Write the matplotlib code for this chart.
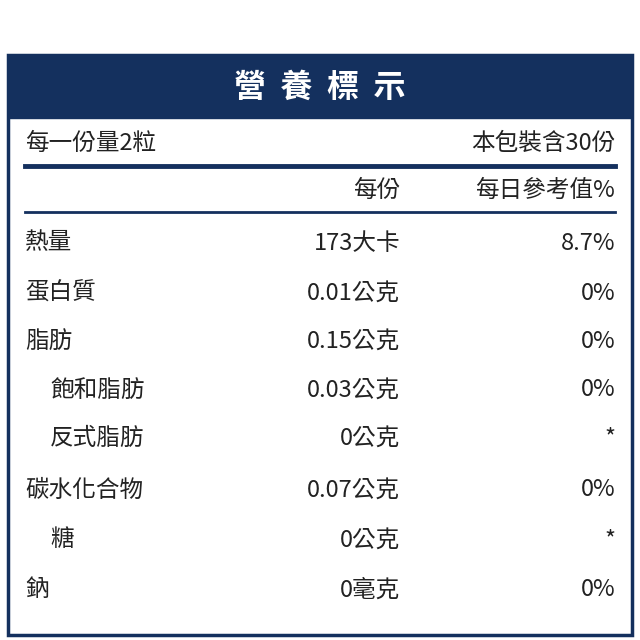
import matplotlib
matplotlib.use("Agg")
import matplotlib.pyplot as plt
from matplotlib.patches import Rectangle

plt.rcParams['font.family'] = ['Noto Sans CJK TC', 'DejaVu Sans']

title = "營  養  標  示"
serving = "每一份量2粒"
servings_per = "本包裝含30份"
col_headers = ["每份", "每日參考值%"]
items = ["熱量", "蛋白質", "脂肪", "飽和脂肪", "反式脂肪", "碳水化合物", "糖", "鈉"]
per_serving = ["173大卡", "0.01公克", "0.15公克", "0.03公克", "0公克", "0.07公克", "0公克", "0毫克"]
daily_pct = ["8.7%", "0%", "0%", "0%", "*", "0%", "*", "0%"]
indent = [False, False, False, True, True, False, True, False]

navy = "#14305e"
txt = "#222222"

fig = plt.figure(figsize=(6.4, 6.4), dpi=100)
ax = fig.add_axes([0, 0, 1, 1])
ax.set_xlim(0, 640)
ax.set_ylim(640, 0)
ax.axis('off')

ax.add_patch(Rectangle((8, 55), 624, 580, fill=False, edgecolor=navy, lw=2.5))
ax.add_patch(Rectangle((8, 55), 624, 63, color=navy))
ax.text(320, 88, title, color='white', fontsize=23, fontweight='bold', ha='center', va='center')

fs = 17
ax.text(25, 143, serving, fontsize=fs, color=txt, va='center', ha='left')
ax.text(615, 143, servings_per, fontsize=fs, color=txt, va='center', ha='right')
ax.plot([25, 615], [166, 166], color=navy, lw=3.5)
ax.text(400, 190, col_headers[0], fontsize=fs, color=txt, va='center', ha='right')
ax.text(615, 190, col_headers[1], fontsize=fs, color=txt, va='center', ha='right')
ax.plot([25, 615], [212, 212], color=navy, lw=2)

ys = [243, 293, 341, 390, 438, 490, 540, 590]
for y, name, ps, dv, ind in zip(ys, items, per_serving, daily_pct, indent):
    ax.text(50 if ind else 25, y, name, fontsize=fs, color=txt, va='center', ha='left')
    ax.text(400, y, ps, fontsize=fs, color=txt, va='center', ha='right')
    ax.text(615, y, dv, fontsize=fs, color=txt, va='center', ha='right')

fig.savefig("out.png", dpi=100)
